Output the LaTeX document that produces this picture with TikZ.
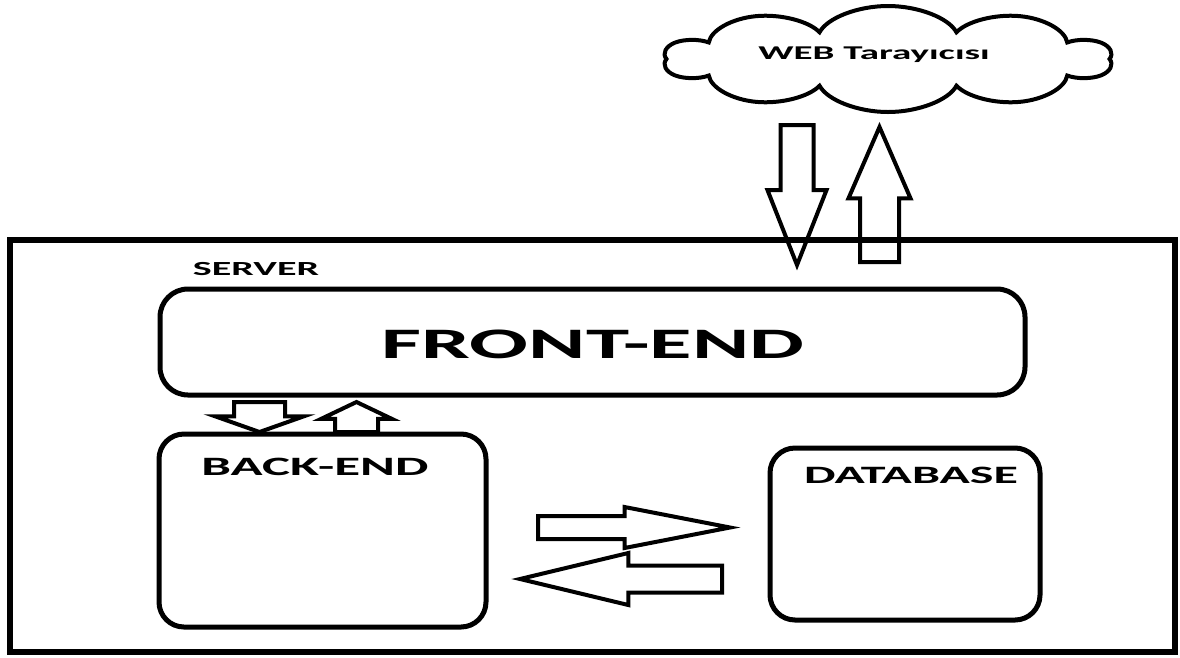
\documentclass[tikz,border=0pt]{standalone}
\usepackage{fontspec}
\newfontfamily\widefont[FakeStretch=2]{Carlito}
\usetikzlibrary{shapes.symbols,shapes.arrows}

\begin{document}
\begin{tikzpicture}
  [x=1pt,y=-1pt,
   box/.style={draw,line width=5pt,rounded corners=28pt,inner sep=0pt},
   bigarrow/.style={draw,single arrow,line width=4pt,inner xsep=0pt,outer sep=0pt,anchor=tip},
   txt/.style={anchor=base,inner sep=0pt,font={\widefont\bfseries\fontsize{#1}{#1}\selectfont}}]
    \useasboundingbox (0,0) rectangle (1180,657);

    % browser
    \node[draw,cloud,cloud puffs=10,xscale=2,line width=4pt,minimum width=224pt,minimum height=106pt] (web) at (888,59) {};
    \node[txt=19.5] (webname) at (874,59) {WEB Tarayıcısı};

    % server and its parts
    \node[draw,line width=6pt,minimum width=1165pt,minimum height=412pt] (server) at (592.5,446) {};
    \node[txt=20] (servername) at (256,275) {SERVER};

    \node[box,minimum width=865pt,minimum height=106pt] (front) at (592.5,342) {};
    \node[txt=43.5] (frontname) at (593,358) {FRONT-END};

    \node[box,rounded corners=25pt,minimum width=327pt,minimum height=193pt] (back) at (322.5,530.5) {};
    \node[txt=26.5] (backname) at (315,475) {BACK-END};

    \node[box,rounded corners=25pt,minimum width=270pt,minimum height=172pt] (db) at (905,534) {};
    \node[txt=25] (dbname) at (911,483) {DATABASE};

    % requests and answers (placed by their tips)
    \node[bigarrow,rotate=-90,minimum height=140pt,minimum width=55pt,inner ysep=14.5pt,single arrow head extend=13pt,single arrow tip angle=43] (webdown) at (797,265) {};
    \node[bigarrow,rotate=90,minimum height=135pt,minimum width=58pt,inner ysep=17.5pt,single arrow head extend=11.5pt,single arrow tip angle=47] (webup) at (879.5,127) {};

    \node[bigarrow,rotate=-90,minimum height=30pt,minimum width=85pt,inner ysep=23.5pt,single arrow head extend=19pt,single arrow tip angle=141] (frontdown) at (259.5,432) {};
    \node[bigarrow,rotate=90,minimum height=30pt,minimum width=67pt,inner ysep=19.5pt,single arrow head extend=14pt,single arrow tip angle=129] (backup) at (356.5,402) {};

    \node[bigarrow,minimum height=192pt,minimum width=37pt,inner ysep=9.5pt,single arrow head extend=9pt,single arrow tip angle=22] (todb) at (730,527.5) {};
    \node[bigarrow,rotate=180,minimum height=202pt,minimum width=48pt,inner ysep=11.5pt,single arrow head extend=12.5pt,single arrow tip angle=27] (toback) at (520,579) {};

\end{tikzpicture}
\end{document}
